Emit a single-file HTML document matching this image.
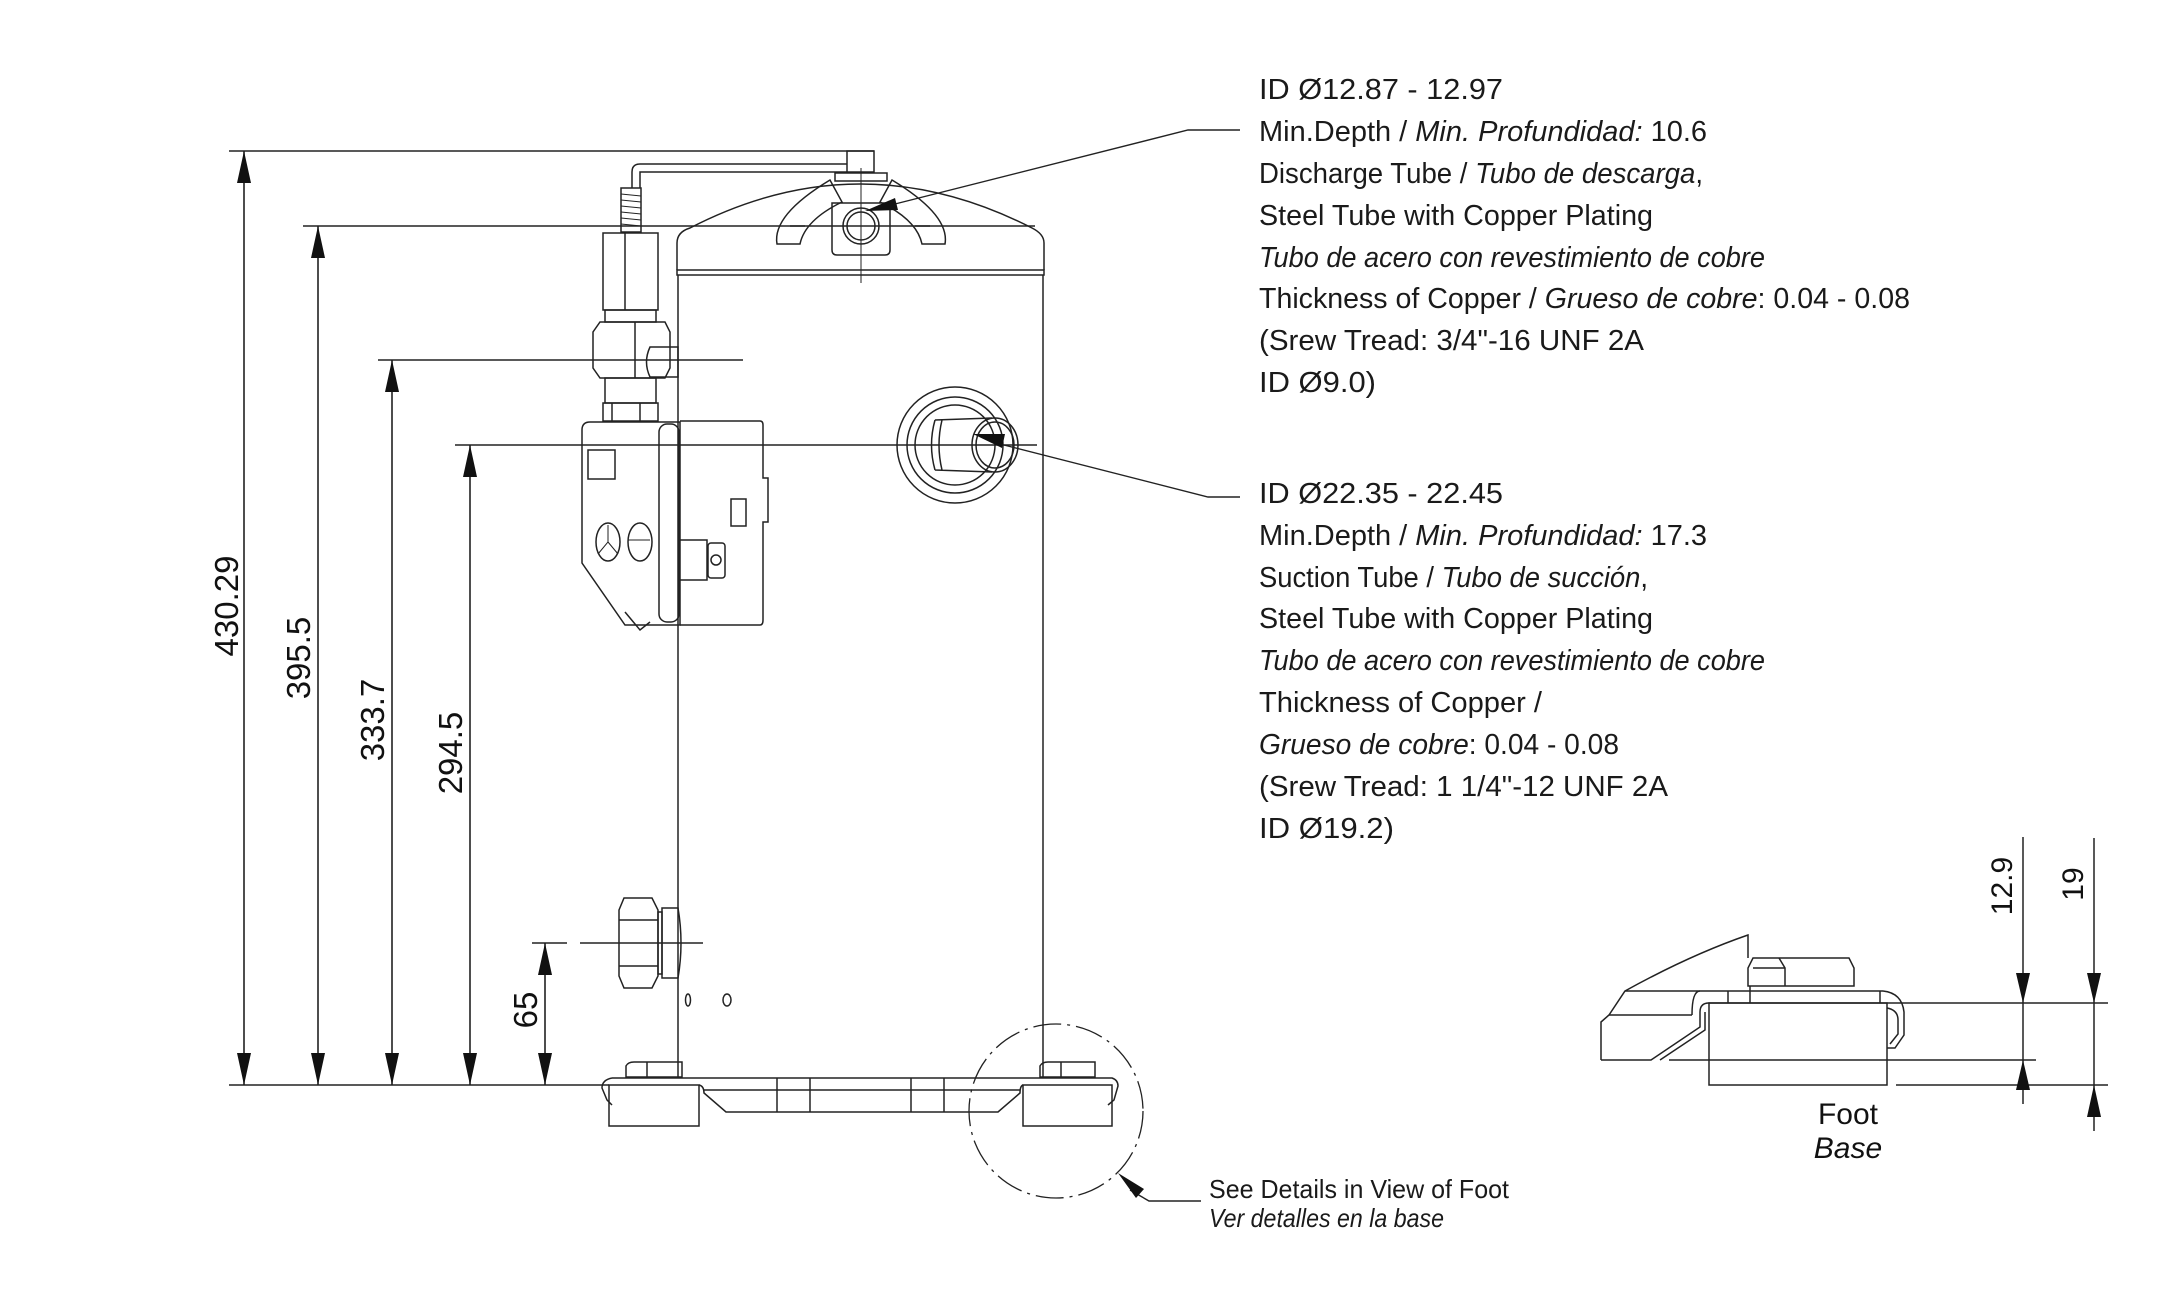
<!DOCTYPE html>
<html><head><meta charset="utf-8"><style>html,body{margin:0;padding:0;background:#fff}svg{display:block}</style></head>
<body>
<svg width="2178" height="1293" viewBox="0 0 2178 1293" xmlns="http://www.w3.org/2000/svg" font-family="Liberation Sans, sans-serif">
<defs>
<marker id="a" markerWidth="10" markerHeight="30" refX="0" refY="0" orient="auto" viewBox="-1 -16 32 32"></marker>
</defs>
<g fill="none" stroke="#222" stroke-width="1.6">
<!-- dimension extension lines -->
<line x1="229" y1="151" x2="874" y2="151"/>
<line x1="303" y1="226" x2="1035" y2="226"/>
<line x1="378" y1="360" x2="743" y2="360"/>
<line x1="455" y1="445" x2="1037" y2="445"/>
<line x1="532" y1="943" x2="567" y2="943"/>
<line x1="580" y1="943" x2="703" y2="943"/>
<line x1="229" y1="1085" x2="609" y2="1085"/>
<!-- dim lines -->
<line x1="244" y1="151" x2="244" y2="1085"/>
<line x1="318" y1="226" x2="318" y2="1085"/>
<line x1="392" y1="360" x2="392" y2="1085"/>
<line x1="470" y1="445" x2="470" y2="1085"/>
<line x1="545" y1="943" x2="545" y2="1085"/>
</g>
<g fill="#111">
<polygon points="244,151 237,183 251,183"/><polygon points="244,1085 237,1053 251,1053"/>
<polygon points="318,226 311,258 325,258"/><polygon points="318,1085 311,1053 325,1053"/>
<polygon points="392,360 385,392 399,392"/><polygon points="392,1085 385,1053 399,1053"/>
<polygon points="470,445 463,477 477,477"/><polygon points="470,1085 463,1053 477,1053"/>
<polygon points="545,943 538,975 552,975"/><polygon points="545,1085 538,1053 552,1053"/>
</g>
<g font-size="33" fill="#111" text-anchor="middle">
<text transform="translate(238,606) rotate(-90)" dy="0">430.29</text>
<text transform="translate(310,658) rotate(-90)">395.5</text>
<text transform="translate(384,720) rotate(-90)">333.7</text>
<text transform="translate(462,753) rotate(-90)">294.5</text>
<text transform="translate(537,1010) rotate(-90)">65</text>
</g>

<!-- compressor -->
<g fill="none" stroke="#222" stroke-width="1.5">
<!-- body -->
<line x1="678" y1="275" x2="678" y2="1078"/>
<line x1="1043" y1="275" x2="1043" y2="1078"/>
<rect x="677" y="270" width="367" height="5"/>
<path d="M677,270 L677,243 Q677,232 690,228 Q860,140 1032,228 Q1044,234 1044,243 L1044,270"/>
<!-- leaves around discharge -->
<path d="M777,244 Q772,215 830,180 L842,202 Q805,220 800,244 Z"/>
<path d="M945,244 Q950,215 892,180 L880,202 Q917,220 922,244 Z"/>
<line x1="790" y1="226" x2="805" y2="226"/><line x1="915" y1="226" x2="930" y2="226"/>
<!-- discharge block -->
<path d="M832,203 L890,203 L890,250 Q890,255 885,255 L837,255 Q832,255 832,250 Z"/>
<rect x="835" y="173" width="52" height="8"/>
<circle cx="861" cy="226" r="18"/><circle cx="861" cy="226" r="14"/>
<line x1="861" y1="168" x2="861" y2="283" stroke-width="1"/>
<!-- top pipe -->
<rect x="847" y="151" width="27" height="21"/>
<path d="M847,164 L640,164 Q632,164 632,172 L632,188 M847,172 L640,172 L640,188"/>
<rect x="621" y="188" width="20" height="44"/>
<path d="M621,194 L641,196 M621,200 L641,202 M621,206 L641,208 M621,212 L641,214 M621,218 L641,220 M621,224 L641,226" stroke-width="1"/>
<!-- valve -->
<rect x="603" y="233" width="55" height="77"/><line x1="625" y1="233" x2="625" y2="310"/>
<rect x="605" y="310" width="51" height="12"/>
<path d="M600,322 L665,322 L670,332 L670,368 L665,378 L600,378 L593,368 L593,332 Z"/>
<line x1="635" y1="322" x2="635" y2="378"/>
<path d="M650,347 L678,347 L678,377 L650,377 Q643,362 650,347 Z"/>
<rect x="605" y="378" width="51" height="25"/>
<rect x="603" y="403" width="55" height="18"/>
<line x1="612" y1="403" x2="612" y2="421"/><line x1="640" y1="403" x2="640" y2="421"/>
<!-- terminal box -->
<path d="M590,422 L680,422 L680,625 L625,625 L582,563 L582,430 Q582,422 590,422 Z"/>
<rect x="659" y="424" width="20" height="198" rx="8"/>
<path d="M680,421 L760,421 Q763,421 763,425 L763,478 L768,478 L768,522 L763,522 L763,620 Q763,625 760,625 L680,625"/>
<path d="M680,540 L707,540 L707,580 L680,580"/>
<rect x="708" y="543" width="17" height="35" rx="3"/><circle cx="716" cy="560" r="5"/>
<rect x="731" y="499" width="15" height="27"/>
<rect x="588" y="450" width="27" height="29"/>
<ellipse cx="608" cy="542" rx="12" ry="19"/><ellipse cx="640" cy="542" rx="12" ry="19"/>
<path d="M608,525 L608,542 L598,554 M608,542 L618,554" stroke-width="1"/>
<path d="M628,540 L650,540" stroke-width="1"/>
<path d="M625,612 L640,630 L650,622" />
<!-- suction -->
<circle cx="955" cy="445" r="58"/><circle cx="955" cy="445" r="48"/><circle cx="955" cy="445" r="40"/>
<path d="M935,420 L992,418 M935,470 L992,472 M935,420 Q928,445 935,470 M942,420 Q936,445 942,470"/>
<ellipse cx="995" cy="445" rx="23" ry="27"/><ellipse cx="995" cy="445" rx="19" ry="23"/>
<!-- lower fitting -->
<path d="M624,898 L652,898 L658,910 L658,976 L652,988 L624,988 L619,976 L619,910 Z"/>
<line x1="619" y1="920" x2="658" y2="920"/><line x1="619" y1="966" x2="658" y2="966"/>
<rect x="658" y="912" width="4" height="62"/>
<path d="M662,908 L678,908 Q684,943 678,978 L662,978 Z"/>
<ellipse cx="688" cy="1000" rx="2.5" ry="6"/><ellipse cx="727" cy="1000" rx="4" ry="6"/>
<!-- base -->
<path d="M626,1077 L626,1066 Q628,1062 634,1062 L682,1062 L682,1077 Z"/><line x1="647" y1="1062" x2="647" y2="1077"/>
<path d="M1040,1077 L1040,1066 Q1042,1062 1048,1062 L1095,1062 L1095,1077 Z"/><line x1="1061" y1="1062" x2="1061" y2="1077"/>
<path d="M612,1078 L1112,1078 Q1118,1080 1118,1086 L1114,1100 L1108,1105"/>
<path d="M612,1078 Q602,1080 602,1088 L607,1100 L612,1105"/>
<rect x="609" y="1085" width="90" height="41"/>
<rect x="1023" y="1085" width="89" height="41"/>
<path d="M699,1085 Q704,1086 704,1093 L726,1112 L998,1112 L1020,1093 Q1020,1086 1023,1085"/>
<line x1="703" y1="1090" x2="1020" y2="1090"/>
<line x1="777" y1="1078" x2="777" y2="1112"/><line x1="810" y1="1078" x2="810" y2="1112"/>
<line x1="911" y1="1078" x2="911" y2="1112"/><line x1="944" y1="1078" x2="944" y2="1112"/>
</g>
<!-- dashed detail circle -->
<circle cx="1056" cy="1111" r="87" fill="none" stroke="#222" stroke-width="1.3" stroke-dasharray="28,6,3,6"/>
<g fill="none" stroke="#222" stroke-width="1.4">
<polyline points="1130,1190 1149,1201 1201,1201"/>
<polyline points="895,204 1188,130 1240,130"/>
<polyline points="1000,444 1208,497 1240,497"/>
</g>
<g fill="#111">
<polygon points="1118,1173 1136,1198 1144,1189"/>
<polygon points="865,211 895,198 898,210"/>
<polygon points="973,434 1005,434 1002,448"/>
</g>

<!-- text blocks -->
<g font-size="29" fill="#1a1a1a" lengthAdjust="spacingAndGlyphs">
<text x="1259" y="99" textLength="244" lengthAdjust="spacingAndGlyphs">ID Ø12.87 - 12.97</text>
<text x="1259" y="141" textLength="448" lengthAdjust="spacingAndGlyphs">Min.Depth / <tspan font-style="italic">Min. Profundidad:</tspan> 10.6</text>
<text x="1259" y="183" textLength="444" lengthAdjust="spacingAndGlyphs">Discharge Tube / <tspan font-style="italic">Tubo de descarga</tspan>,</text>
<text x="1259" y="225" textLength="394" lengthAdjust="spacingAndGlyphs">Steel Tube with Copper Plating</text>
<text x="1259" y="267" textLength="506" lengthAdjust="spacingAndGlyphs" font-style="italic">Tubo de acero con revestimiento de cobre</text>
<text x="1259" y="308" textLength="651" lengthAdjust="spacingAndGlyphs">Thickness of Copper / <tspan font-style="italic">Grueso de cobre</tspan>: 0.04 - 0.08</text>
<text x="1259" y="350" textLength="385" lengthAdjust="spacingAndGlyphs">(Srew Tread: 3/4"-16 UNF 2A</text>
<text x="1259" y="392" textLength="117" lengthAdjust="spacingAndGlyphs">ID Ø9.0)</text>

<text x="1259" y="503" textLength="244" lengthAdjust="spacingAndGlyphs">ID Ø22.35 - 22.45</text>
<text x="1259" y="545" textLength="448" lengthAdjust="spacingAndGlyphs">Min.Depth / <tspan font-style="italic">Min. Profundidad:</tspan> 17.3</text>
<text x="1259" y="587" textLength="389" lengthAdjust="spacingAndGlyphs">Suction Tube / <tspan font-style="italic">Tubo de succión</tspan>,</text>
<text x="1259" y="628" textLength="394" lengthAdjust="spacingAndGlyphs">Steel Tube with Copper Plating</text>
<text x="1259" y="670" textLength="506" lengthAdjust="spacingAndGlyphs" font-style="italic">Tubo de acero con revestimiento de cobre</text>
<text x="1259" y="712" textLength="283" lengthAdjust="spacingAndGlyphs">Thickness of Copper /</text>
<text x="1259" y="754" textLength="360" lengthAdjust="spacingAndGlyphs"><tspan font-style="italic">Grueso de cobre</tspan>: 0.04 - 0.08</text>
<text x="1259" y="796" textLength="409" lengthAdjust="spacingAndGlyphs">(Srew Tread: 1 1/4"-12 UNF 2A</text>
<text x="1259" y="838" textLength="135" lengthAdjust="spacingAndGlyphs">ID Ø19.2)</text>
</g>
<g font-size="26" fill="#1a1a1a">
<text x="1209" y="1198" textLength="300" lengthAdjust="spacingAndGlyphs">See Details in View of Foot</text>
<text x="1209" y="1227" textLength="235" lengthAdjust="spacingAndGlyphs" font-style="italic">Ver detalles en la base</text>
</g>

<!-- foot detail -->
<g fill="none" stroke="#222" stroke-width="1.5">
<line x1="1709" y1="1003" x2="2108" y2="1003"/>
<line x1="1669" y1="1060" x2="2036" y2="1060"/>
<line x1="1896" y1="1085" x2="2108" y2="1085"/>
<line x1="2023" y1="837" x2="2023" y2="1104"/>
<line x1="2094" y1="838" x2="2094" y2="1131"/>
<rect x="1709" y="1003" width="178" height="82"/>
<path d="M1748,986 L1748,968 L1753,958 L1849,958 L1854,968 L1854,986 Z"/>
<path d="M1779,958 L1785,968 L1785,986 M1753,968 L1785,968"/>
<path d="M1601,1060 L1601,1022 L1609,1015 L1625,991 Q1690,955 1748,935 L1748,958"/>
<line x1="1609" y1="1015" x2="1692" y2="1015"/>
<line x1="1625" y1="991" x2="1883" y2="991"/>
<path d="M1601,1060 L1651,1060 L1700,1027 L1700,1012 Q1700,1003 1709,1003"/>
<path d="M1660,1060 L1705,1030 L1705,1012"/>
<path d="M1692,1015 Q1692,991 1700,991"/>
<path d="M1883,991 Q1902,993 1904,1012 L1904,1035 L1895,1048 L1887,1048"/>
<path d="M1887,1008 Q1898,1010 1898,1020 L1898,1034 L1890,1044"/>
<line x1="1728" y1="991" x2="1728" y2="1003"/><line x1="1750" y1="986" x2="1750" y2="1003"/><line x1="1880" y1="991" x2="1880" y2="1003"/>
</g>
<g fill="#111">
<polygon points="2023,1003 2016,973 2030,973"/><polygon points="2023,1060 2016,1090 2030,1090"/>
<polygon points="2094,1003 2087,973 2101,973"/><polygon points="2094,1085 2087,1117 2101,1117"/>
</g>
<g font-size="30" fill="#111" text-anchor="middle">
<text transform="translate(2012,886) rotate(-90)">12.9</text>
<text transform="translate(2083,884) rotate(-90)">19</text>
</g>
<g font-size="30" fill="#111" text-anchor="middle">
<text x="1848" y="1124">Foot</text>
<text x="1848" y="1158" font-style="italic">Base</text>
</g>
</svg>
</body></html>
